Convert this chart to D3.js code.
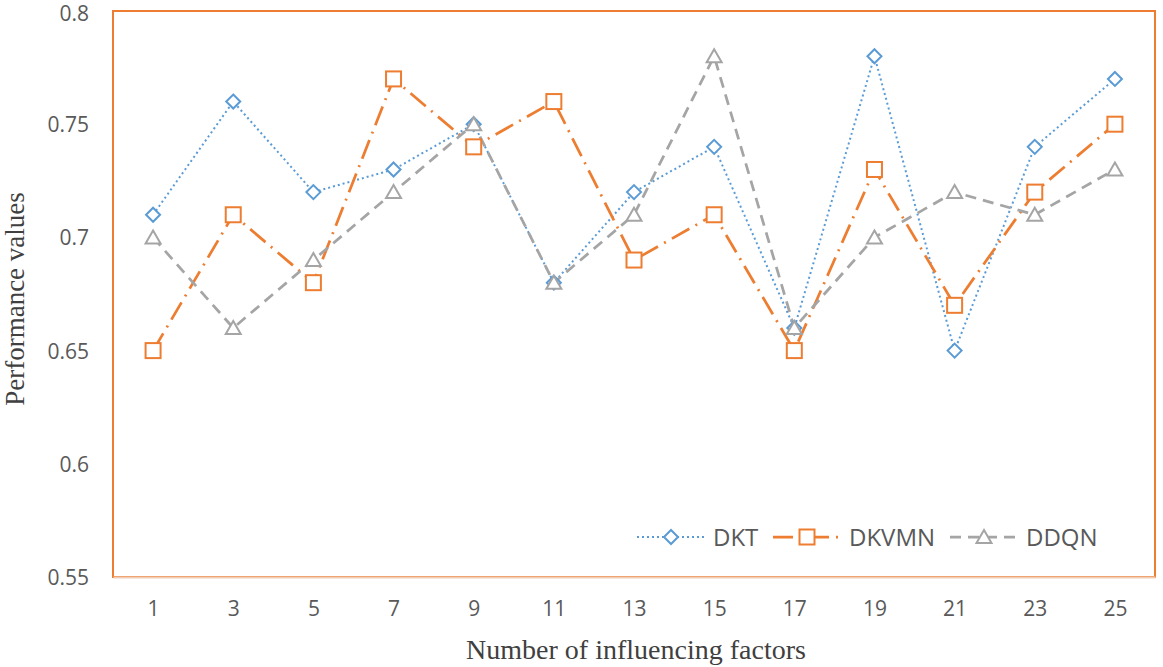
<!DOCTYPE html>
<html>
<head>
<meta charset="utf-8">
<script src="https://cdn.jsdelivr.net/npm/d3@7"></script>
<style>
  body { margin: 0; background: #fff; }
  .tick text { font-family: "Open Sans", sans-serif; font-size: 21px; fill: #595959; }
</style>
</head>
<body>
<div id="chart"></div>
<script>
// Data
const factors = ["1", "3", "5", "7", "9", "11", "13", "15", "17", "19", "21", "23", "25"];
const dkt   = [0.71, 0.76, 0.72, 0.73, 0.75, 0.68, 0.72, 0.74, 0.66, 0.78, 0.65, 0.74, 0.77];
const dkvmn = [0.65, 0.71, 0.68, 0.77, 0.74, 0.76, 0.69, 0.71, 0.65, 0.73, 0.67, 0.72, 0.75];
const ddqn  = [0.70, 0.66, 0.69, 0.72, 0.75, 0.68, 0.71, 0.78, 0.66, 0.70, 0.72, 0.71, 0.73];
const yTicks = [0.55, 0.6, 0.65, 0.7, 0.75, 0.8];

const series = [
  {name: "DKT",   values: dkt,   color: "#5B9BD5", dash: "2,3",        width: 2,   marker: "diamond"},
  {name: "DKVMN", values: dkvmn, color: "#ED7D31", dash: "20,7,2,7",   width: 2.75, marker: "square"},
  {name: "DDQN",  values: ddqn,  color: "#A5A5A5", dash: "11,7",       width: 2.75, marker: "triangle"}
];

// Margin convention
const margin = {top: 11, left: 113, right: 8, bottom: 90};
const width = 1163 - margin.left - margin.right;
const height = 667 - margin.top - margin.bottom;

const svg = d3.select("#chart").append("svg")
    .attr("width", 1163)
    .attr("height", 667)
  .append("g")
    .attr("transform", `translate(${margin.left},${margin.top})`);

const xScale = d3.scalePoint()
    .domain(factors)
    .range([0, width])
    .padding(0.5);

const yScale = d3.scaleLinear()
    .domain([0.55, 0.8])
    .range([height, 0]);

// Plot frame
svg.append("rect")
    .attr("width", width)
    .attr("height", height)
    .attr("fill", "none")
    .attr("stroke", "#ED7D31")
    .attr("stroke-width", 2);

// Axes
const xAxis = svg.append("g")
    .attr("transform", `translate(0,${height})`)
    .call(d3.axisBottom(xScale).tickSize(0).tickPadding(24));
xAxis.select(".domain").attr("stroke", "#F0CDB4").attr("stroke-width", 2);

const yAxis = svg.append("g")
    .call(d3.axisLeft(yScale).tickValues(yTicks).tickSize(0).tickPadding(24)
      .tickFormat(d => String(+d.toFixed(2))));
yAxis.select(".domain").remove();
// top label sits right at the page edge, nudge it down a touch
yAxis.selectAll(".tick text").attr("dy", d => d === 0.8 ? "0.45em" : "0.36em");

// Lines
const line = d3.line()
    .x((d, i) => xScale(factors[i]))
    .y(d => yScale(d));

function drawMarker(g, type, color) {
  if (type === "diamond") {
    g.append("path").attr("d", "M0,-7L7,0L0,7L-7,0Z");
  } else if (type === "square") {
    g.append("rect").attr("x", -7.5).attr("y", -7.5).attr("width", 15).attr("height", 15);
  } else {
    g.append("path").attr("d", "M0,-7L7.5,6L-7.5,6Z");
  }
  g.selectAll("path,rect")
    .attr("fill", "#fff")
    .attr("stroke", color)
    .attr("stroke-width", 2);
}

series.forEach(s => {
  svg.append("path")
      .datum(s.values)
      .attr("fill", "none")
      .attr("stroke", s.color)
      .attr("stroke-width", s.width)
      .attr("stroke-dasharray", s.dash)
      .attr("d", line);
});

series.forEach(s => {
  s.values.forEach((v, i) => {
    const g = svg.append("g")
        .attr("transform", `translate(${xScale(factors[i])},${yScale(v)})`);
    drawMarker(g, s.marker, s.color);
  });
});

// Legend
const legendX = [524, 660, 837];
series.forEach((s, i) => {
  const g = svg.append("g")
      .attr("transform", `translate(${legendX[i]},${526})`);
  g.append("line")
      .attr("x1", 0).attr("x2", 68)
      .attr("stroke", s.color)
      .attr("stroke-width", s.width)
      .attr("stroke-dasharray", s.dash);
  const m = g.append("g").attr("transform", "translate(34,0)");
  drawMarker(m, s.marker, s.color);
  g.append("text")
      .attr("x", 76)
      .attr("dy", "0.36em")
      .attr("font-family", "'Open Sans', sans-serif")
      .attr("font-size", 24)
      .attr("fill", "#595959")
      .text(s.name);
});

// Axis titles
svg.append("text")
    .attr("x", width / 2 + 2)
    .attr("y", height + 82)
    .attr("text-anchor", "middle")
    .attr("font-family", "'Liberation Serif', serif")
    .attr("font-size", 28)
    .attr("fill", "#404040")
    .text("Number of influencing factors");

svg.append("text")
    .attr("transform", `translate(${-margin.left + 24},${height / 2 + 5}) rotate(-90)`)
    .attr("text-anchor", "middle")
    .attr("font-family", "'Liberation Serif', serif")
    .attr("font-size", 27)
    .attr("fill", "#404040")
    .text("Performance values");
</script>
</body>
</html>
